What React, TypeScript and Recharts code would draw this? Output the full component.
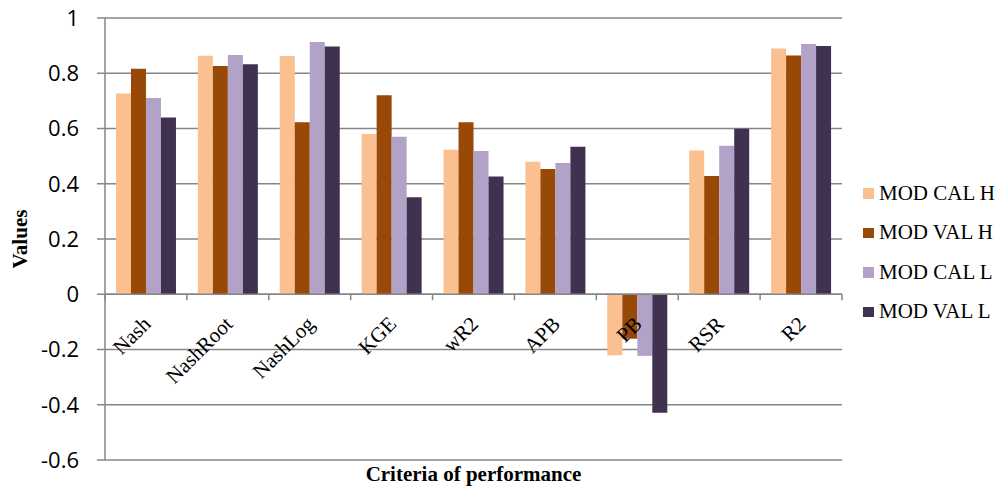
import React from 'react';
import { BarChart, Bar, XAxis, YAxis, CartesianGrid, ReferenceLine, Legend } from 'recharts';

const categories = ['Nash', 'NashRoot', 'NashLog', 'KGE', 'wR2', 'APB', 'PB', 'RSR', 'R2'];
const modCalH = [0.727, 0.863, 0.862, 0.58, 0.523, 0.48, -0.221, 0.52, 0.89];
const modValH = [0.816, 0.826, 0.623, 0.72, 0.623, 0.453, -0.161, 0.428, 0.864];
const modCalL = [0.71, 0.866, 0.913, 0.57, 0.519, 0.475, -0.223, 0.538, 0.906];
const modValL = [0.64, 0.833, 0.897, 0.351, 0.426, 0.534, -0.429, 0.599, 0.899];
const seriesNames = ['MOD CAL H', 'MOD VAL H', 'MOD CAL L', 'MOD VAL L'];
const seriesColors = ['#FAC090', '#984807', '#B3A2C7', '#403151'];
const yTicks = [-0.6, -0.4, -0.2, 0, 0.2, 0.4, 0.6, 0.8, 1];

const Y_MIN = -0.6;
const Y_MAX = 1;

const data = categories.map((c, i) => ({
  name: c,
  s0: modCalH[i],
  s1: modValH[i],
  s2: modCalL[i],
  s3: modValL[i],
}));

const W = 999;
const H = 489;
const MARGIN = { top: 18, right: 157, bottom: 0, left: 0 };
const YAXIS_W = 105;
const XAXIS_H = 29;
const PLOT_H = H - MARGIN.top - MARGIN.bottom - XAXIS_H;
const PLOT_W = W - MARGIN.left - MARGIN.right - YAXIS_W;
const ZERO_Y = MARGIN.top + (PLOT_H * (Y_MAX - 0)) / (Y_MAX - Y_MIN);
const BAND = PLOT_W / categories.length;
const GRID = '#868686';
const SERIF = "'Liberation Serif', 'Times New Roman', serif";

function CategoryTick(props: any) {
  const { x, payload, index } = props;
  const left = x - BAND / 2;
  const ax = x + 6;
  const ay = ZERO_Y + 31;
  return (
    <g>
      <line x1={left} y1={ZERO_Y} x2={left} y2={ZERO_Y + 6} stroke={GRID} strokeWidth={1.5} />
      {index === categories.length - 1 && (
        <line x1={x + BAND / 2} y1={ZERO_Y} x2={x + BAND / 2} y2={ZERO_Y + 6} stroke={GRID} strokeWidth={1.5} />
      )}
      <text
        x={ax}
        y={ay}
        textAnchor="end"
        transform={`rotate(-45 ${ax} ${ay})`}
        fontFamily={SERIF}
        fontSize={21}
        fill="#000"
      >
        {payload.value}
      </text>
    </g>
  );
}

function LegendContent() {
  return (
    <div style={{ display: 'flex', flexDirection: 'column' }}>
      {seriesNames.map((n, i) => (
        <div key={n} style={{ height: 39.5, display: 'flex', alignItems: 'center', whiteSpace: 'nowrap' }}>
          <span style={{ width: 10.5, height: 10.5, background: seriesColors[i], display: 'inline-block', marginRight: 5.5, flex: 'none' }} />
          <span style={{ fontFamily: SERIF, fontSize: 21, color: '#000', lineHeight: '21px' }}>{n}</span>
        </div>
      ))}
    </div>
  );
}

export default function App() {
  return (
    <div style={{ width: W, height: H, overflow: 'hidden' }}>
      <style>{'html,body{margin:0;padding:0;overflow:hidden;}'}</style>
      <BarChart width={W} height={H} data={data} margin={MARGIN} barCategoryGap="13.4%" barGap={0}>
        <CartesianGrid vertical={false} stroke={GRID} strokeWidth={1.5} />
        <XAxis
          dataKey="name"
          height={XAXIS_H}
          axisLine={false}
          tickLine={false}
          interval={0}
          tick={(p: any) => <CategoryTick {...p} />}
          label={{
            content: (lp: any) => {
              const vb = lp.viewBox;
              return (
                <text
                  x={vb.x + vb.width / 2}
                  y={vb.y + 20.7}
                  textAnchor="middle"
                  fontFamily={SERIF}
                  fontWeight="bold"
                  fontSize={21}
                  fill="#000"
                >
                  Criteria of performance
                </text>
              );
            },
          }}
        />
        <YAxis
          width={YAXIS_W}
          domain={[Y_MIN, Y_MAX]}
          ticks={yTicks}
          interval={0}
          allowDataOverflow
          axisLine={{ stroke: GRID, strokeWidth: 1.5 }}
          tickLine={{ stroke: GRID, strokeWidth: 1.5 }}
          tickSize={8}
          tickMargin={18}
          tickFormatter={(v: number) => String(v)}
          tick={{ fontFamily: "'Open Sans', sans-serif", fontSize: 22, fill: '#000' }}
          label={{
            content: (lp: any) => {
              const vb = lp.viewBox;
              const cx = 26.5;
              const cy = vb.y + vb.height / 2;
              return (
                <text
                  x={cx}
                  y={cy}
                  textAnchor="middle"
                  transform={`rotate(-90 ${cx} ${cy})`}
                  fontFamily={SERIF}
                  fontWeight="bold"
                  fontSize={21}
                  fill="#000"
                >
                  Values
                </text>
              );
            },
          }}
        />
        <ReferenceLine y={0} stroke={GRID} strokeWidth={1.5} />
        {seriesNames.map((n, i) => (
          <Bar key={n} dataKey={`s${i}`} name={n} fill={seriesColors[i]} isAnimationActive={false} />
        ))}
        <Legend
          layout="horizontal"
          verticalAlign="middle"
          align="center"
          content={() => <LegendContent />}
          wrapperStyle={{ position: 'absolute', left: 863, top: 173.5, width: 136, margin: 0 }}
        />
      </BarChart>
    </div>
  );
}
